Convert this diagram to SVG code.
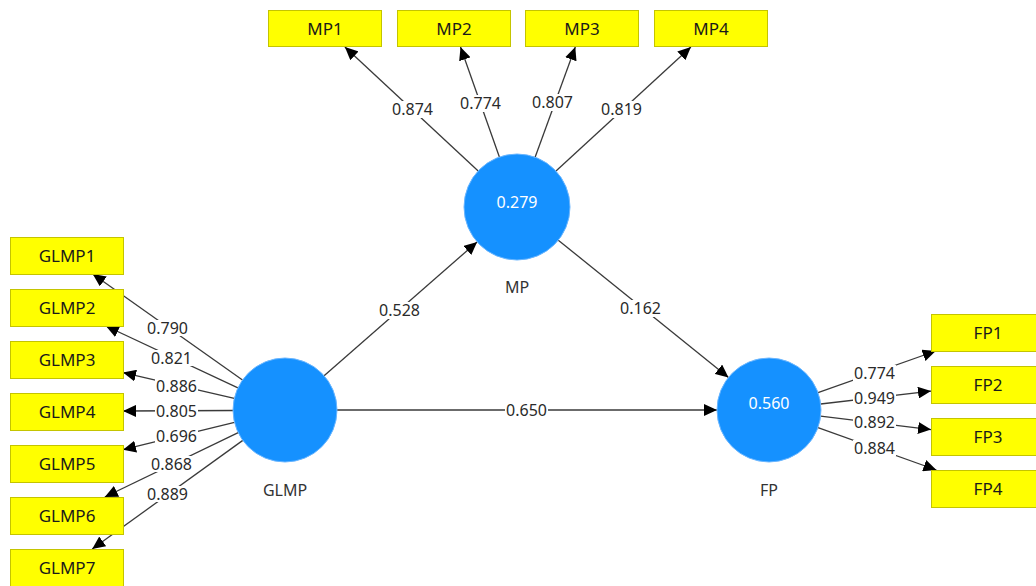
<svg xmlns="http://www.w3.org/2000/svg" width="1036" height="586" viewBox="0 0 1036 586">
<style>
  text { font-family: "Noto Sans", "Open Sans", sans-serif; font-size: 16px; text-anchor: middle; }
  .box { fill: #FFFF00; stroke: #C4C400; stroke-width: 1; }
  .boxt { fill: #1a1a1a; font-size: 17px; }
  .lvt { fill: #FFFFFF; }
  .lvn { fill: #333333; }
  .edge { stroke: #3a3a3a; stroke-width: 1.3; fill: none; marker-end: url(#ah); }
  .lbg { fill: #FFFFFF; }
  .lbl { fill: #2a2a2a; }
</style>
<defs>
  <marker id="ah" markerUnits="userSpaceOnUse" markerWidth="13" markerHeight="12" viewBox="0 0 13 12" refX="13" refY="6" orient="auto">
    <path d="M0,0 L13,6 L0,12 z" fill="#000000"/>
  </marker>
</defs>
<rect width="1036" height="586" fill="#FFFFFF"/>

<g id="connectors">
  <!-- GLMP indicators -->
  <line class="edge" x1="242.5" y1="380" x2="92.7" y2="274"/>
  <line class="edge" x1="237.9" y1="387.9" x2="105.9" y2="326"/>
  <line class="edge" x1="234.3" y1="398.3" x2="123" y2="372.6"/>
  <line class="edge" x1="233" y1="410.5" x2="123" y2="411"/>
  <line class="edge" x1="234.5" y1="422.4" x2="123" y2="449.7"/>
  <line class="edge" x1="238.2" y1="432.6" x2="104.8" y2="497"/>
  <line class="edge" x1="242.8" y1="440.4" x2="92.2" y2="549"/>
  <!-- MP indicators -->
  <line class="edge" x1="478.2" y1="170.9" x2="344.9" y2="47"/>
  <line class="edge" x1="499.4" y1="157" x2="460.5" y2="47"/>
  <line class="edge" x1="535.1" y1="157.2" x2="575.3" y2="47"/>
  <line class="edge" x1="556" y1="171.1" x2="690.9" y2="47"/>
  <!-- FP indicators -->
  <line class="edge" x1="818" y1="392.7" x2="935.7" y2="351"/>
  <line class="edge" x1="820.6" y1="404" x2="931" y2="391.1"/>
  <line class="edge" x1="820.6" y1="416.2" x2="931" y2="429.6"/>
  <line class="edge" x1="818" y1="427.6" x2="936.4" y2="470"/>
  <!-- structural -->
  <line class="edge" x1="324.1" y1="375.8" x2="477.1" y2="241.9"/>
  <line class="edge" x1="558.3" y1="240.2" x2="728.5" y2="377.4"/>
  <line class="edge" x1="337" y1="410" x2="717" y2="410"/>

  <!-- labels -->
  <g>
    <rect class="lbg" x="146" y="320" width="43" height="16"/><text class="lbl" x="167.5" y="333.5">0.790</text>
    <rect class="lbg" x="150" y="350" width="43" height="16"/><text class="lbl" x="171.5" y="363.5">0.821</text>
    <rect class="lbg" x="155" y="378" width="43" height="16"/><text class="lbl" x="176.5" y="391.5">0.886</text>
    <rect class="lbg" x="155" y="403" width="43" height="16"/><text class="lbl" x="176.5" y="416.5">0.805</text>
    <rect class="lbg" x="155" y="428" width="43" height="16"/><text class="lbl" x="176.5" y="441.5">0.696</text>
    <rect class="lbg" x="150" y="456" width="43" height="16"/><text class="lbl" x="171.5" y="469.5">0.868</text>
    <rect class="lbg" x="146" y="486" width="43" height="16"/><text class="lbl" x="167.5" y="499.5">0.889</text>

    <rect class="lbg" x="391" y="101" width="43" height="17"/><text class="lbl" x="412.5" y="115">0.874</text>
    <rect class="lbg" x="459" y="95" width="43" height="17"/><text class="lbl" x="480.5" y="109">0.774</text>
    <rect class="lbg" x="531" y="94" width="43" height="17"/><text class="lbl" x="552.5" y="108">0.807</text>
    <rect class="lbg" x="600" y="101" width="43" height="17"/><text class="lbl" x="621.5" y="115">0.819</text>

    <rect class="lbg" x="853" y="365" width="43" height="16"/><text class="lbl" x="874.5" y="378.5">0.774</text>
    <rect class="lbg" x="853" y="390" width="43" height="16"/><text class="lbl" x="874.5" y="403.5">0.949</text>
    <rect class="lbg" x="853" y="414" width="43" height="16"/><text class="lbl" x="874.5" y="427.5">0.892</text>
    <rect class="lbg" x="853" y="440" width="43" height="16"/><text class="lbl" x="874.5" y="453.5">0.884</text>

    <rect class="lbg" x="378" y="302" width="43" height="17"/><text class="lbl" x="399.5" y="316">0.528</text>
    <rect class="lbg" x="619" y="300" width="43" height="17"/><text class="lbl" x="640.5" y="314">0.162</text>
    <rect class="lbg" x="505" y="401" width="43" height="17"/><text class="lbl" x="526.5" y="415.5">0.650</text>
  </g>
</g>

<g id="GLMP">
  <circle cx="285" cy="410" r="52" fill="#1591FF" stroke="#6AB6FF" stroke-width="1"/>
  <text class="lvn" x="285" y="496">GLMP</text>
</g>
<g id="MP">
  <circle cx="517" cy="207" r="53" fill="#1591FF" stroke="#6AB6FF" stroke-width="1"/>
  <text class="lvt" x="517" y="207.5">0.279</text>
  <text class="lvn" x="517" y="293">MP</text>
</g>
<g id="FP">
  <circle cx="769" cy="410" r="52" fill="#1591FF" stroke="#6AB6FF" stroke-width="1"/>
  <text class="lvt" x="769" y="408.5">0.560</text>
  <text class="lvn" x="769" y="496">FP</text>
</g>

<g id="GLMP1"><rect class="box" x="10.5" y="237.5" width="113" height="37"/><text class="boxt" x="67" y="262">GLMP1</text></g>
<g id="GLMP2"><rect class="box" x="10.5" y="289.5" width="113" height="37"/><text class="boxt" x="67" y="314">GLMP2</text></g>
<g id="GLMP3"><rect class="box" x="10.5" y="341.5" width="113" height="37"/><text class="boxt" x="67" y="366">GLMP3</text></g>
<g id="GLMP4"><rect class="box" x="10.5" y="393.5" width="113" height="37"/><text class="boxt" x="67" y="418">GLMP4</text></g>
<g id="GLMP5"><rect class="box" x="10.5" y="445.5" width="113" height="37"/><text class="boxt" x="67" y="470">GLMP5</text></g>
<g id="GLMP6"><rect class="box" x="10.5" y="497.5" width="113" height="37"/><text class="boxt" x="67" y="522">GLMP6</text></g>
<g id="GLMP7"><rect class="box" x="10.5" y="549.5" width="113" height="37"/><text class="boxt" x="67" y="574">GLMP7</text></g>

<g id="MP1"><rect class="box" x="268.5" y="10.5" width="113" height="36"/><text class="boxt" x="325" y="34.5">MP1</text></g>
<g id="MP2"><rect class="box" x="397.5" y="10.5" width="113" height="36"/><text class="boxt" x="454" y="34.5">MP2</text></g>
<g id="MP3"><rect class="box" x="525.5" y="10.5" width="113" height="36"/><text class="boxt" x="582" y="34.5">MP3</text></g>
<g id="MP4"><rect class="box" x="654.5" y="10.5" width="113" height="36"/><text class="boxt" x="711" y="34.5">MP4</text></g>

<g id="FP1"><rect class="box" x="931.5" y="314.5" width="113" height="37"/><text class="boxt" x="988" y="339">FP1</text></g>
<g id="FP2"><rect class="box" x="931.5" y="366.5" width="113" height="37"/><text class="boxt" x="988" y="391">FP2</text></g>
<g id="FP3"><rect class="box" x="931.5" y="418.5" width="113" height="37"/><text class="boxt" x="988" y="443">FP3</text></g>
<g id="FP4"><rect class="box" x="931.5" y="470.5" width="113" height="37"/><text class="boxt" x="988" y="495">FP4</text></g>
</svg>
